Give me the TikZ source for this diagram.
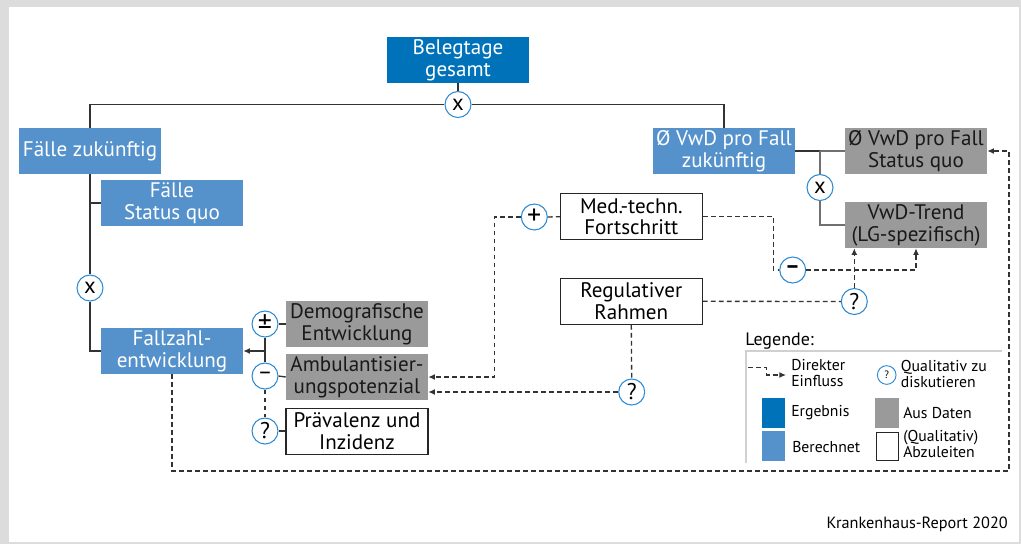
\documentclass[tikz,border=0pt]{standalone}
\usepackage{fontspec}
\setmainfont{PT Sans}
\usetikzlibrary{arrows.meta}
\definecolor{dblue}{HTML}{0072BA}
\definecolor{mblue}{HTML}{5592CB}
\definecolor{dgray}{HTML}{9A9A9A}
\definecolor{cblue}{HTML}{2E8BD3}
\definecolor{framegray}{HTML}{DCDCDC}
\definecolor{lgline}{HTML}{D0D0D0}
\definecolor{lineg}{HTML}{707070}
\tikzset{
  box/.style={minimum width=106.5pt, minimum height=34.5pt, inner sep=0pt, align=center, font={\fontsize{15.8}{16.3}\selectfont}},
  res/.style={box, fill=dblue, text=white},
  calc/.style={box, fill=mblue, text=white},
  dat/.style={box, fill=dgray, text=black!90},
  qual/.style={box, fill=white, draw=black!85, line width=0.8pt},
  op/.style={circle, draw=cblue, fill=white, line width=0.8pt, minimum size=19.5pt, inner sep=0pt, font={\fontsize{17}{17}\selectfont}},
  bigop/.style={op, font={\fontsize{21}{21}\selectfont}},
  conn/.style={draw=black!80, line width=1pt},
  gconn/.style={draw=lineg, line width=1pt},
  dconn/.style={draw=black!80, line width=1pt, dash pattern=on 3.6pt off 2.4pt},
  arr/.style={-{Latex[length=5pt,width=4.5pt]}},
  legtext/.style={anchor=west, align=left, inner sep=0pt, font={\fontsize{11.8}{12}\selectfont}},
  legsq/.style={minimum width=17.5pt, minimum height=22pt, inner sep=0pt},
}
\begin{document}
\begin{tikzpicture}[x=0.75pt,y=-0.75pt]
\useasboundingbox (0,0) rectangle (1021,544);
\fill[framegray] (0,0) rectangle (1021,544);
\fill[white] (9,7) rectangle (1019,541.5);

% boxes
\node[res]  (bel)  at (458,60)    {Belegtage\\gesamt};
\node[calc] (fz)   at (90,151)    {Fälle zukünftig};
\node[calc] (fsq)  at (172,203)   {Fälle\\Status quo};
\node[calc] (fe)   at (172,351)   {Fallzahl-\\entwicklung};
\node[dat]  (demo) at (357,324)   {Demografische\\Entwicklung};
\node[dat]  (amb)  at (357,377)   {Ambulantisier-\\ungspotenzial};
\node[qual] (prae) at (357,431.5) {Prävalenz und\\Inzidenz};
\node[calc] (vz)   at (724,151)   {Ø VwD pro Fall\\zukünftig};
\node[dat]  (vsq)  at (916,151)   {Ø VwD pro Fall\\Status quo};
\node[dat]  (vtr)  at (916,225)   {VwD-Trend\\(LG-spezifisch)};
\node[qual] (med)  at (631.3,216.7) {Med.-techn.\\Fortschritt};
\node[qual] (reg)  at (631.3,301.3) {Regulativer\\Rahmen};

% operator circles
\node[op] (cx1)   at (458,104.5) {x};
\node[op] (cx2)   at (90,288)    {x};
\node[bigop] (cpm)   at (265,324)   {±};
\node[op] (cmi)   at (265,376)   {–};
\node[op] (cq1)   at (265,431)   {?};
\node[op] (cx3)   at (820,187.5) {x};
\node[bigop] (cplus) at (534.3,217) {+};
\node[op] (cmi2)  at (792.7,270) {\textbf{–}};
\node[op] (cq2)   at (854.3,301.5) {?};
\node[op] (cq3)   at (631.7,392) {?};

% solid connectors
\draw[conn] (bel.south) -- (cx1.north);
\draw[conn] (cx1.west) -| (fz.north);
\draw[conn] (cx1.east) -| (vz.north);
\draw[conn] (fz.south) -- (cx2.north);
\draw[conn] (fz.south |- fsq.west) -- (fsq.west);
\draw[conn] (cx2.south) |- (fe.west);
\draw[conn] (cpm.south) -- (cmi.north);
\draw[conn,arr] (cpm.south |- fe.east) -- (fe.east);
\draw[conn] (cpm.east) -- (demo.west);
\draw[conn] (cmi.east) -- (amb.west);
\draw[dconn] (cmi.south) -- (cq1.north);
\draw[conn] (cq1.east) -- (cq1.east -| prae.west);
\draw[conn] (vz.east) -- (cx3.north |- vz.east);
\draw[gconn] (cx3.north |- vz.east) -- (vsq.west);
\draw[gconn] (cx3.north |- vz.east) -- (cx3.north);
\draw[gconn] (cx3.south) |- (vtr.west);

% dashed influences
\draw[dconn] (cplus.east) -- (med.west);
\draw[dconn,arr] (cplus.west) -- (494.3,217) -- (494.3,377) -- (amb.east);
\draw[dconn] (reg.south) -- (cq3.north);
\draw[dconn,arr] (cq3.west) -- (cq3.west -| amb.east);
\draw[dconn] (med.east) -- (773.3,216.7) -- (773.3,270) -- (cmi2.west);
\draw[dconn,arr] (cmi2.east) -| (vtr.south);
\draw[dconn] (reg.east) -- (cq2.west);
\draw[dconn,arr] (cq2.north) -- (cq2.north |- vtr.south);
\draw[dconn,arr] (fe.south) -- (172,471) -- (1009,471) -- (1009,151) -- (vsq.east);

% legend
\node[anchor=west, inner sep=0pt, font={\fontsize{13.5}{14}\selectfont}] (legt) at (745,341) {Legende:};
\coordinate (lgtl) at (745.7,350.7);
\coordinate (lgtr) at (1001.7,350.7);
\coordinate (lgbl) at (745.7,462.7);
\draw[lgline, line width=1.2pt] (lgtr) -- (lgtl) -- (lgbl);
\coordinate (la1) at (748,367.7);
\coordinate (la2) at (786,375);
\draw[dconn,arr] (la1) -- (766.7,367.7) -- (766.7,375) -- (la2);
\node[legtext] (lt1) at (791,373) {Direkter\\Einfluss};
\node[circle, draw=cblue, fill=white, line width=0.7pt, minimum size=14pt, inner sep=0pt, font={\fontsize{8}{8}\selectfont}] (lq) at (886.7,375) {?};
\node[legtext] (lt2) at (900.7,374) {Qualitativ zu\\diskutieren};
\node[legsq, fill=dblue] (ls1) at (773.5,413) {};
\node[legtext] (lt3) at (791,413) {Ergebnis};
\node[legsq, fill=mblue] (ls2) at (773.5,446) {};
\node[legtext] (lt4) at (792,447) {Berechnet};
\node[legsq, fill=dgray] (ls3) at (887,413) {};
\node[legtext] (lt5) at (903,413) {Aus Daten};
\node[legsq, fill=white, draw=black!85, line width=0.7pt, minimum width=16.5pt, minimum height=21pt] (ls4) at (887,446.3) {};
\node[legtext] (lt6) at (903,444) {(Qualitativ)\\Abzuleiten};

% footer
\node[anchor=east, inner sep=0pt, font={\fontsize{12.2}{12}\selectfont}] (foot) at (1008,524) {Krankenhaus-Report 2020};
\end{tikzpicture}
\end{document}
